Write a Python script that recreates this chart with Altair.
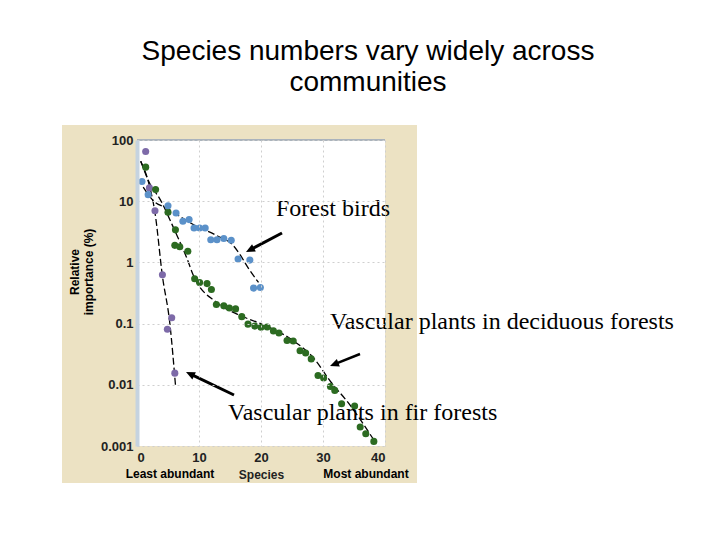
import math
import pandas as pd
import altair as alt

# rank-abundance values (x = species rank, y = relative importance %)
fir_rank = [1.4, 2.0, 2.9, 4.1, 5.6, 4.9, 6.1]
fir_imp = [65, 16.5, 7.0, 0.63, 0.125, 0.081, 0.0155]

birds_rank = [0.8, 1.8, 5.0, 6.3, 7.4, 8.4, 9.2, 10.1, 11.0, 11.9, 12.9, 14.0, 15.2, 16.3, 18.2, 18.8, 19.9]
birds_imp = [21, 12.8, 8.4, 6.4, 4.7, 5.0, 3.65, 3.65, 3.65, 2.35, 2.35, 2.45, 2.3, 1.14, 1.09, 0.38, 0.39]

decid_rank = [1.4, 3.0, 5.0, 6.2, 6.1, 6.9, 8.2, 9.3, 10.1, 11.3, 12.0, 12.8, 14.0, 14.9, 15.9, 16.9,
              17.9, 19.0, 20.0, 21.0, 22.0, 22.9, 24.2, 25.2, 26.3, 27.2, 28.1, 29.2, 30.1, 31.2, 31.9,
              33.0, 35.1, 36.0, 36.9, 38.2]
decid_imp = [36, 15.5, 6.6, 3.4, 1.9, 1.8, 1.52, 0.54, 0.47, 0.45, 0.36, 0.205, 0.195, 0.18, 0.174, 0.13,
             0.098, 0.091, 0.087, 0.088, 0.076, 0.07, 0.053, 0.052, 0.036, 0.033, 0.0265, 0.0142, 0.0129,
             0.0094, 0.0081, 0.0049, 0.0045, 0.00204, 0.00159, 0.00119]

# fitted curves (black dashed)
fir_fit_x = [0.6, 2.0, 2.9, 4.1, 5.3, 6.2]
fir_fit_y = [45, 18, 6.5, 0.6, 0.1, 0.01]
decid_fit_x = [0.6, 2.0, 3.7, 6.1, 8.0, 9.1, 12.9, 16.7, 20.0, 24.8, 28.6, 31.3, 34.0, 38.1]
decid_fit_y = [45, 20, 10.8, 3.3, 1.2, 0.61, 0.22, 0.135, 0.099, 0.056, 0.0265, 0.011, 0.0052, 0.0013]
birds_fit_x = [1.0, 2.5, 5.0, 9.0, 13.0, 15.5, 16.5, 17.9, 19.6]
birds_fit_y = [17, 10.5, 7.5, 4.2, 2.7, 1.9, 1.4, 0.82, 0.47]

groups = ["Vascular plants in fir forests", "Vascular plants in deciduous forests", "Forest birds"]
colors = ["#7d6aa8", "#2c6b21", "#5b91c9"]

x_ticks = [0, 10, 20, 30, 40]
y_ticks = [0.001, 0.01, 0.1, 1, 10, 100]

pts = pd.concat([
    pd.DataFrame({"rank": fir_rank, "imp": fir_imp, "group": groups[0]}),
    pd.DataFrame({"rank": decid_rank, "imp": decid_imp, "group": groups[1]}),
    pd.DataFrame({"rank": birds_rank, "imp": birds_imp, "group": groups[2]}),
])
fits = pd.concat([
    pd.DataFrame({"rank": fir_fit_x, "imp": fir_fit_y, "group": groups[0]}),
    pd.DataFrame({"rank": decid_fit_x, "imp": decid_fit_y, "group": groups[1]}),
    pd.DataFrame({"rank": birds_fit_x, "imp": birds_fit_y, "group": groups[2]}),
])

W, H = 248, 306
one = pd.DataFrame({"a": [0]})
lbl_font = "Liberation Sans"

x_scale = alt.Scale(domain=[0, 40], nice=False)
y_scale = alt.Scale(type="log", domain=[0.001, 100], nice=False)

x_axis = alt.Axis(values=x_ticks, title="Species", domain=False, ticks=False, grid=True,
                  gridDash=[2, 3], gridColor="#cfcfcf", labelFont=lbl_font, labelFontWeight="bold",
                  labelFontSize=13, labelColor="#222", labelPadding=5, titleFont=lbl_font,
                  titleFontSize=12, titleFontWeight="bold", titleColor="#222", titlePadding=5, zindex=1)
y_axis = alt.Axis(values=y_ticks, labelExpr="toString(datum.value)", title=None, ticks=False,
                  domainColor="#c5d3e0", domainWidth=4, grid=True, gridDash=[2, 3],
                  gridColor="#cfcfcf", labelFont=lbl_font, labelFontWeight="bold",
                  labelFontSize=13, labelColor="#222", labelPadding=4, zindex=1)

panel = alt.Chart(one).mark_rect(color="#ece2c3").encode(
    x=alt.value(-75), x2=alt.value(280), y=alt.value(-15), y2=alt.value(343))
plot_bg = alt.Chart(one).mark_rect(color="white").encode(
    x=alt.value(0), x2=alt.value(W), y=alt.value(0), y2=alt.value(H))
top_edge = alt.Chart(one).mark_rule(color="#aab3bc", strokeWidth=2).encode(
    x=alt.value(0), x2=alt.value(W), y=alt.value(0))

fit_lines = alt.Chart(fits).mark_line(color="black", strokeWidth=1.3, strokeDash=[7, 3],
                                      interpolate="monotone").encode(
    x=alt.X("rank:Q", scale=x_scale, axis=x_axis),
    y=alt.Y("imp:Q", scale=y_scale, axis=y_axis),
    detail="group:N",
)

dots = alt.Chart(pts).mark_circle(size=50, opacity=1).encode(
    x=alt.X("rank:Q", scale=x_scale, axis=x_axis),
    y=alt.Y("imp:Q", scale=y_scale, axis=y_axis),
    color=alt.Color("group:N", scale=alt.Scale(domain=groups, range=colors), legend=None),
)


def label(text, x, y, size, font=lbl_font, weight="bold", align="center", angle=0, baseline="middle"):
    return alt.Chart(one).mark_text(text=text, font=font, fontSize=size, fontWeight=weight, align=align,
                                    baseline=baseline, angle=angle, color="black").encode(
        x=alt.value(x), y=alt.value(y))


def arrow(x1, y1, x2, y2, w=3):
    dx, dy = x2 - x1, y2 - y1
    ang = math.degrees(math.atan2(dx, -dy)) % 360
    L = math.hypot(dx, dy)
    ex, ey = x2 - dx / L * 5, y2 - dy / L * 5
    shaft = alt.Chart(one).mark_rule(color="black", strokeWidth=w).encode(
        x=alt.value(x1), y=alt.value(y1), x2=alt.value(ex), y2=alt.value(ey))
    head = alt.Chart(one).mark_point(shape="M0,0L-0.45,1L0.45,1Z", filled=True, size=324, opacity=1,
                                     color="black", angle=ang).encode(x=alt.value(x2), y=alt.value(y2))
    return shaft + head


texts = [
    label("Species numbers vary widely across", 231, -80, 28, weight="normal", baseline="alphabetic"),
    label("communities", 231, -49, 28, weight="normal", baseline="alphabetic"),
    label("Relative", -62, 132, 12, angle=270),
    label("importance (%)", -48, 132, 12, angle=270),
    label("Least abundant", 33, 334, 12),
    label("Most abundant", 229, 334, 12),
    label("Forest birds", 139, 76, 24, font="Liberation Serif", weight="normal", align="left",
          baseline="alphabetic"),
    label("Vascular plants in deciduous forests", 193, 189, 24, font="Liberation Serif", weight="normal",
          align="left", baseline="alphabetic"),
    label("Vascular plants in fir forests", 91, 280, 24, font="Liberation Serif", weight="normal",
          align="left", baseline="alphabetic"),
]

arrows = [
    arrow(145, 93, 109, 112),
    arrow(223, 214, 193, 226, w=2.5),
    arrow(97, 255, 49, 232),
]

chart = alt.layer(panel, plot_bg, top_edge, fit_lines, dots, *texts, *arrows).properties(
    width=W, height=H,
    padding={"left": 129, "top": 132, "right": 327, "bottom": 86},
    autosize=alt.AutoSizeParams(type="none"),
    background="white",
).configure_view(stroke=None)

chart.save("out.html", embed_options={"renderer": "svg", "actions": False})
